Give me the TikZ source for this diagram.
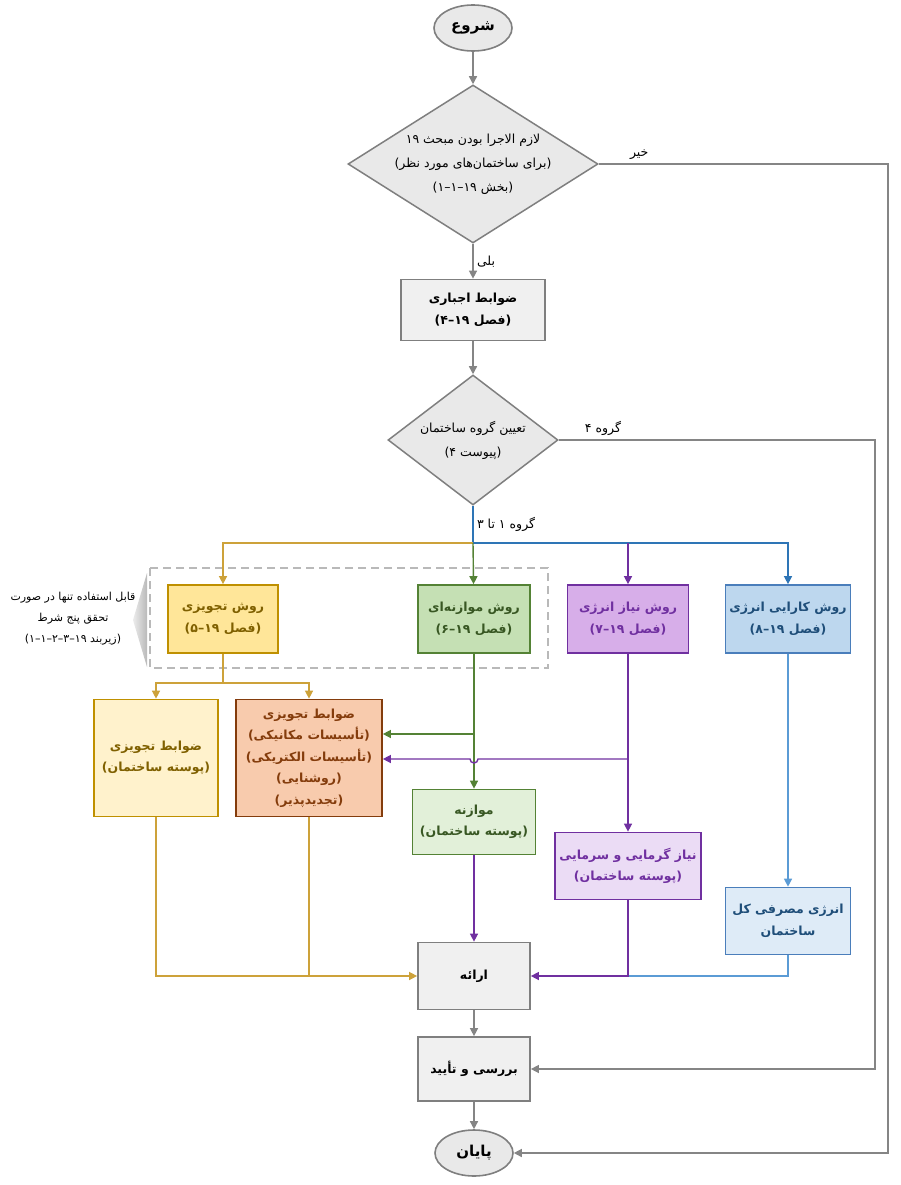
\documentclass[tikz,border=0pt]{standalone}
\usepackage{fontspec}
\usetikzlibrary{shapes.geometric}
\usetikzlibrary{arrows.meta}
\newfontfamily\farsi[Script=Arabic]{DejaVu Sans}
\TeXXeTstate=1
\newcommand{\rl}[1]{\beginR #1\endR}
\definecolor{lngray}{HTML}{858585}
\definecolor{boxdraw}{HTML}{7F7F7F}
\definecolor{boxfill}{HTML}{F0F0F0}
\definecolor{termfill}{HTML}{E9E9E9}
\definecolor{yline}{HTML}{CDA23A}
\definecolor{ydraw}{HTML}{BF9000}
\definecolor{yfill}{HTML}{FFE699}
\definecolor{ylfill}{HTML}{FFF2CC}
\definecolor{ytext}{HTML}{7F6000}
\definecolor{odraw}{HTML}{843C0C}
\definecolor{ofill}{HTML}{F8CBAD}
\definecolor{gline}{HTML}{548235}
\definecolor{gfill}{HTML}{C5E0B4}
\definecolor{glfill}{HTML}{E2F0D9}
\definecolor{gtext}{HTML}{385723}
\definecolor{pline}{HTML}{7030A0}
\definecolor{pfill}{HTML}{D7AEE9}
\definecolor{plfill}{HTML}{EBDCF5}
\definecolor{bline}{HTML}{2E75B6}
\definecolor{blline}{HTML}{5B9BD5}
\definecolor{bdraw}{HTML}{4A7EBB}
\definecolor{bfill}{HTML}{BDD7EE}
\definecolor{blfill}{HTML}{DEEBF7}
\definecolor{btext}{HTML}{1F4E79}

\begin{document}
\begin{tikzpicture}[x=1pt,y=-1pt,line width=1.4pt,>={Triangle[length=8pt,width=8pt]},
	txt/.style={align=center,text=black,font=\farsi\fontsize{12.5}{24}\selectfont},
	bx/.style={rectangle,draw,line width=1.7pt,inner sep=1pt,align=center,
		font=\farsi\bfseries\fontsize{12.5}{21.5}\selectfont},
	term/.style={ellipse,draw=boxdraw,fill=termfill,line width=1.6pt,minimum width=78pt,
		minimum height=46pt,inner sep=0pt,font=\farsi\bfseries\fontsize{15}{17}\selectfont},
	dec/.style={diamond,draw=boxdraw,fill=termfill,line width=1.5pt,inner sep=0pt},
	grey/.style={bx,draw=boxdraw,fill=boxfill},
	yel/.style={bx,draw=ydraw,fill=yfill,text=ytext},
	yell/.style={bx,draw=ydraw,fill=ylfill,text=ytext},
	ora/.style={bx,draw=odraw,fill=ofill,text=odraw},
	grn/.style={bx,draw=gline,fill=gfill,text=gtext},
	grnl/.style={bx,draw=gline,fill=glfill,text=gtext},
	pur/.style={bx,draw=pline,fill=pfill,text=pline},
	purl/.style={bx,draw=pline,fill=plfill,text=pline},
	blu/.style={bx,draw=bdraw,fill=bfill,text=btext},
	blul/.style={bx,draw=bdraw,fill=blfill,text=btext}]
\useasboundingbox (0,0) rectangle (900,1185);

% frame of the two methods with conditions
\draw[gray!55,line width=1.3pt,dash pattern=on 8pt off 5pt] (150,568) rectangle (548,668);
\shade[left color=gray!15,right color=gray!55] (133,620) -- (147,573) -- (147,667) -- cycle;
\node[txt,font=\farsi\fontsize{11}{21}\selectfont] (cond) at (73,619)
	{\rl{قابل استفاده تنها در صورت}\\\rl{تحقق پنج شرط}\\\rl{(زیربند ۱۹–۳–۲–۱–۱)}};

\node[term] (start) at (473,28) {\rl{شروع}};
\node[dec,minimum width=250pt,minimum height=158pt,
	label={[txt]center:\rl{لازم الاجرا بودن مبحث ۱۹}\\\rl{(برای ساختمان‌های مورد نظر)}\\\rl{(بخش ۱۹–۱–۱)}}] (d1) at (473,164) {};
\node[grey,minimum width=144pt,minimum height=61pt] (b1) at (473,310) {\rl{ضوابط اجباری}\\\rl{(فصل ۱۹–۴)}};
\node[dec,minimum width=170pt,minimum height=130pt,
	label={[txt]center:\rl{تعیین گروه ساختمان}\\\rl{(پیوست ۴)}}] (d2) at (473,440) {};

\node[yel,minimum width=110pt,minimum height=68pt] (m1) at (223,619) {\rl{روش تجویزی}\\\rl{(فصل ۱۹–۵)}};
\node[grn,minimum width=112pt,minimum height=68pt] (m2) at (474,619) {\rl{روش موازنه‌ای}\\\rl{(فصل ۱۹–۶)}};
\node[pur,minimum width=121pt,minimum height=68pt] (m3) at (628,619) {\rl{روش نیاز انرژی}\\\rl{(فصل ۱۹–۷)}};
\node[blu,minimum width=125pt,minimum height=68pt] (m4) at (788,619) {\rl{روش کارایی انرژی}\\\rl{(فصل ۱۹–۸)}};

\node[yell,minimum width=124pt,minimum height=117pt] (p1) at (156,758) {\rl{ضوابط تجویزی}\\\rl{(پوسته ساختمان)}};
\node[ora,minimum width=146pt,minimum height=117pt] (p2) at (309,758)
	{\rl{ضوابط تجویزی}\\\rl{(تأسیسات مکانیکی)}\\\rl{(تأسیسات الکتریکی)}\\\rl{(روشنایی)}\\\rl{(تجدیدپذیر)}};
\node[grnl,minimum width=123pt,minimum height=65pt] (q1) at (474,822) {\rl{موازنه}\\\rl{(پوسته ساختمان)}};
\node[purl,minimum width=146pt,minimum height=67pt] (q2) at (628,866) {\rl{نیاز گرمایی و سرمایی}\\\rl{(پوسته ساختمان)}};
\node[blul,minimum width=125pt,minimum height=67pt] (q3) at (788,921) {\rl{انرژی مصرفی کل}\\\rl{ساختمان}};

\node[grey,minimum width=112pt,minimum height=67pt] (r1) at (474,976) {\rl{ارائه}};
\node[grey,minimum width=112pt,minimum height=64pt] (r2) at (474,1069) {\rl{بررسی و تأیید}};
\node[term] (end) at (474,1153) {\rl{پایان}};

\coordinate (n1) at (888,164);
\coordinate (n2) at (875,440);
\coordinate (s) at (473,543);
\coordinate (y0) at (223,683);
\coordinate (g1) at (474,734);
\coordinate (v1) at (628,759);

% main spine
\draw[lngray,->] (start) -- (d1);
\draw[lngray,->] (d1) -- node[txt,right] (yes) {\rl{بلی}} (b1);
\draw[lngray,->] (b1) -- (d2);
\draw[lngray,->] (d1.east) -- node[txt,above,pos=0.14] (no) {\rl{خیر}} (n1) |- (end);
\draw[lngray,->] (d2.east) -- node[txt,above,pos=0.14] (g4) {\rl{گروه ۴}} (n2) |- (r2);
\draw[lngray,->] (r1) -- (r2);
\draw[lngray,->] (r2) -- (end);

% the four methods
\draw[bline] (d2.south) -- (s) node[txt,anchor=west,pos=0.5] (g13) {\rl{گروه ۱ تا ۳}};
\draw[yline,->] (s) -| (m1);
\draw[bline,->] (s) -| (m4);
\draw[pline,->] (s -| m3) -- (m3);
\draw[gline,->] (s) -- (m2);

\draw[yline] (m1) -- (y0);
\draw[yline,->] (y0) -| (p1);
\draw[yline,->] (y0) -| (p2);
\draw[gline,->] (m2) -- (q1);
\draw[gline,->] (g1) -- (g1 -| p2.east);
\draw[pline,->] (v1) -- (478,759) arc[start angle=0,end angle=180,radius=4] -- (v1 -| p2.east);
\draw[pline,->] (m3) -- (q2);
\draw[blline,->] (m4) -- (q3);

% results
\draw[yline,->] (p1) |- (r1);
\draw[yline] (p2) -- (p2 |- r1);
\draw[blline] (q3) |- (q2 |- r1);
\draw[pline,->] (q2) |- (r1);
\draw[pline,->] (q1) -- (r1);
\end{tikzpicture}
\end{document}
